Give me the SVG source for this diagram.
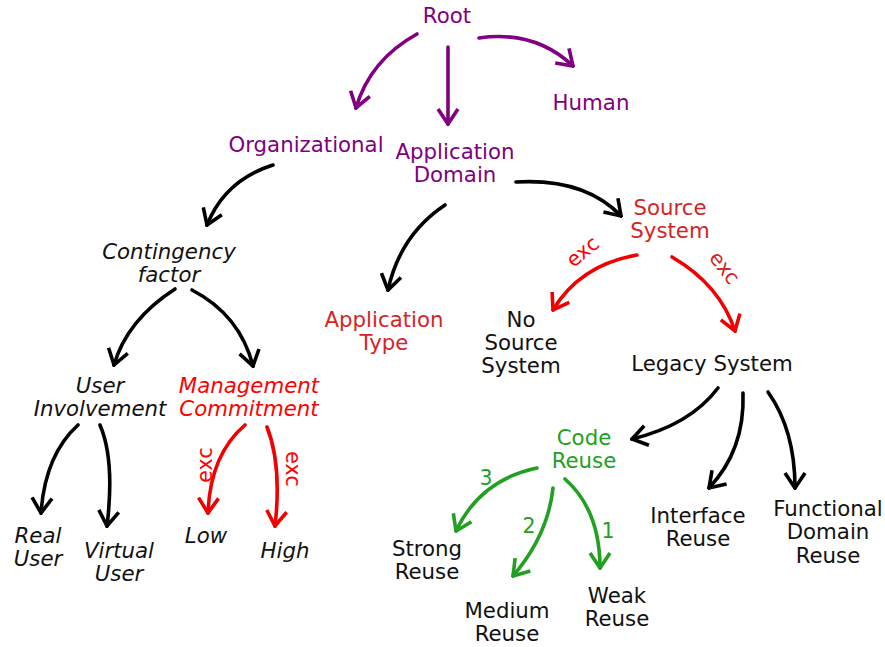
<svg xmlns="http://www.w3.org/2000/svg" width="885" height="647" viewBox="0 0 885 647">
<style>
text{font-family:"DejaVu Sans","Liberation Sans",sans-serif;font-size:21.3px;text-anchor:middle}
.it{font-style:italic}
.pu{fill:#800080}
.rd{fill:#d42525}
.br{fill:#ff0000}
.gr{fill:#22a022}
.bk{fill:#111}
.lab{font-size:20.5px}
path.c{fill:none;stroke-width:3.6;stroke-linecap:round}
.cp{stroke:#800080;marker-end:url(#mp)}
.ck{stroke:#000;marker-end:url(#mk)}
.cr{stroke:#f00000;marker-end:url(#mr)}
.cg{stroke:#22a022;marker-end:url(#mg)}
</style>
<defs>
<marker id="mp" viewBox="-18 -12 20 24" markerWidth="20" markerHeight="24" refX="0" refY="0" orient="auto" markerUnits="userSpaceOnUse"><path d="M-15,-10 L0,0 L-15,10" fill="none" stroke="#800080" stroke-width="3.6"/></marker>
<marker id="mk" viewBox="-18 -12 20 24" markerWidth="20" markerHeight="24" refX="0" refY="0" orient="auto" markerUnits="userSpaceOnUse"><path d="M-15,-10 L0,0 L-15,10" fill="none" stroke="#000" stroke-width="3.6"/></marker>
<marker id="mr" viewBox="-18 -12 20 24" markerWidth="20" markerHeight="24" refX="0" refY="0" orient="auto" markerUnits="userSpaceOnUse"><path d="M-15,-10 L0,0 L-15,10" fill="none" stroke="#f00000" stroke-width="3.6"/></marker>
<marker id="mg" viewBox="-18 -12 20 24" markerWidth="20" markerHeight="24" refX="0" refY="0" orient="auto" markerUnits="userSpaceOnUse"><path d="M-15,-10 L0,0 L-15,10" fill="none" stroke="#22a022" stroke-width="3.6"/></marker>
</defs>
<rect width="885" height="647" fill="#fff"/>

<g id="connectors">
<path class="c cp" d="M417,34 Q370,60 356,108"/>
<path class="c cp" d="M448,47 L448,124"/>
<path class="c cp" d="M479,38 Q535,30 573,66"/>
<path class="c ck" d="M273,165 Q225,180 207,225"/>
<path class="c ck" d="M516,182 Q585,178 621,216"/>
<path class="c ck" d="M445,205 Q400,235 388,290"/>
<path class="c ck" d="M175,289 Q127,320 114,365"/>
<path class="c ck" d="M192,290 Q240,315 253,366"/>
<path class="c ck" d="M78,425 Q45,455 41,513"/>
<path class="c ck" d="M100,425 Q115,460 107,526"/>
<path class="c cr" d="M245,425 Q210,455 208,513"/>
<path class="c cr" d="M267,427 Q282,465 275,526"/>
<path class="c cr" d="M637,255 Q580,265 553,310"/>
<path class="c cr" d="M672,257 Q720,285 735,331"/>
<path class="c ck" d="M718,388 Q690,425 632,439"/>
<path class="c ck" d="M743,393 Q745,450 709,488"/>
<path class="c ck" d="M768,392 Q795,430 795,488"/>
<path class="c cg" d="M537,468 Q480,480 456,531"/>
<path class="c cg" d="M553,488 Q548,535 513,576"/>
<path class="c cg" d="M565,479 Q600,510 600,568"/>
<text class="lab br" transform="translate(587,257) rotate(-40)">exc</text>
<text class="lab rd" transform="translate(719,272) rotate(52)">exc</text>
<text class="lab br" transform="translate(212,465) rotate(-90)">exc</text>
<text class="lab br" transform="translate(286,469) rotate(90)">exc</text>
<text class="lab gr" x="486" y="485">3</text>
<text class="lab gr" x="529" y="533">2</text>
<text class="lab gr" x="608" y="538">1</text>
</g>

<g id="root"><text class="pu" x="447" y="23">Root</text></g>
<g id="human"><text class="pu" x="591" y="110">Human</text></g>
<g id="organizational"><text class="pu" x="306" y="152">Organizational</text></g>
<g id="application-domain"><text class="pu" x="455" y="159">Application<tspan x="455" y="182">Domain</tspan></text></g>
<g id="contingency-factor"><text class="it bk" x="169" y="259">Contingency<tspan x="169" y="282">factor</tspan></text></g>
<g id="user-involvement"><text class="it bk" x="100" y="393">User<tspan x="100" y="416">Involvement</tspan></text></g>
<g id="management-commitment"><text class="it br" x="249" y="393">Management<tspan x="249" y="416">Commitment</tspan></text></g>
<g id="real-user"><text class="it bk" x="38" y="543">Real<tspan x="38" y="566">User</tspan></text></g>
<g id="virtual-user"><text class="it bk" x="119" y="558">Virtual<tspan x="119" y="581">User</tspan></text></g>
<g id="low"><text class="it bk" x="206" y="543">Low</text></g>
<g id="high"><text class="it bk" x="285" y="558">High</text></g>
<g id="application-type"><text class="rd" x="384" y="327">Application<tspan x="384" y="350">Type</tspan></text></g>
<g id="source-system"><text class="rd" x="670" y="215">Source<tspan x="670" y="238">System</tspan></text></g>
<g id="no-source-system"><text class="bk" x="521" y="327">No<tspan x="521" y="350">Source</tspan><tspan x="521" y="373">System</tspan></text></g>
<g id="legacy-system"><text class="bk" x="712" y="371">Legacy System</text></g>
<g id="code-reuse"><text class="gr" x="584" y="445">Code<tspan x="584" y="468">Reuse</tspan></text></g>
<g id="interface-reuse"><text class="bk" x="698" y="523">Interface<tspan x="698" y="546">Reuse</tspan></text></g>
<g id="functional-domain-reuse"><text class="bk" x="828" y="516">Functional<tspan x="828" y="539">Domain</tspan><tspan x="828" y="563">Reuse</tspan></text></g>
<g id="strong-reuse"><text class="bk" x="427" y="556">Strong<tspan x="427" y="579">Reuse</tspan></text></g>
<g id="medium-reuse"><text class="bk" x="507" y="618">Medium<tspan x="507" y="641">Reuse</tspan></text></g>
<g id="weak-reuse"><text class="bk" x="617" y="603">Weak<tspan x="617" y="626">Reuse</tspan></text></g>
</svg>
